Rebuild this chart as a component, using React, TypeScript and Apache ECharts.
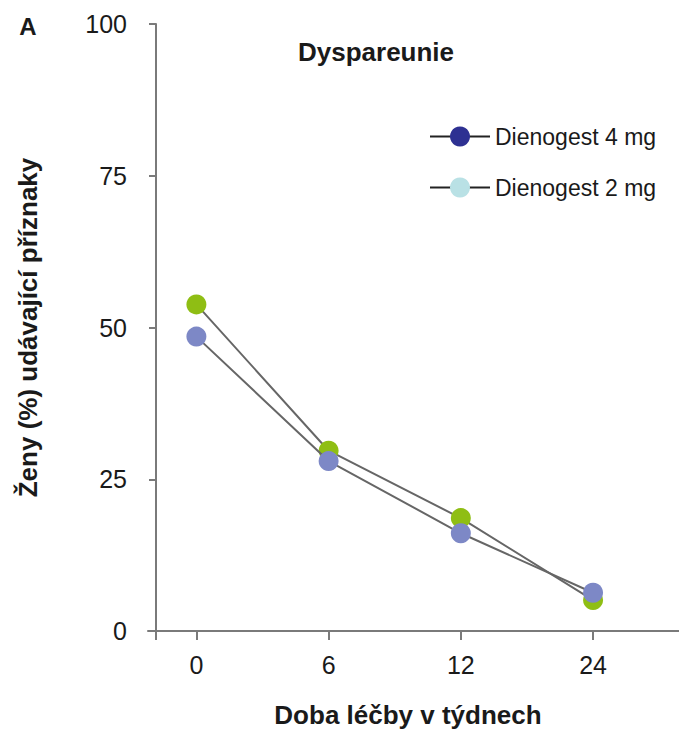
import React, { useEffect, useRef } from "react";
import * as echarts from "echarts";

const weekLabels = ["0", "6", "12", "24"];
const weekIndex = [0, 1, 2, 3];
const dose4mg = [48.5, 28.0, 16.1, 6.3];
const dose2mg = [53.8, 29.7, 18.6, 5.1];
const yTicks = [0, 25, 50, 75, 100];

const FONT = "'Liberation Sans', Arial, sans-serif";

export default function App() {
  const ref = useRef<HTMLDivElement>(null);
  useEffect(() => {
    if (!ref.current) return;
    const chart = echarts.init(ref.current, undefined, { renderer: "svg" });
    const pairs = (vals: number[]) => weekIndex.map((x, i) => [x, vals[i]]);
    chart.setOption({
      animation: false,
      textStyle: { fontFamily: FONT },
      grid: { left: 148, right: 0, top: 24, bottom: 99, containLabel: false },
      xAxis: {
        type: "value",
        min: -0.366,
        max: 3.65,
        axisLine: { show: true, onZero: false, lineStyle: { color: "#7a7a7a", width: 2 } },
        axisTick: { show: true, customValues: weekIndex, length: 9, lineStyle: { color: "#7a7a7a", width: 2 } },
        axisLabel: {
          customValues: weekIndex,
          formatter: (v: number) => weekLabels[Math.round(v)] ?? "",
          fontSize: 25,
          color: "#1a1a1a",
          margin: 21,
          fontFamily: FONT,
        },
        splitLine: { show: false },
      },
      yAxis: {
        type: "value",
        min: 0,
        max: 100,
        interval: 25,
        offset: -8,
        name: "Ženy (%) udávající příznaky",
        nameLocation: "middle",
        nameRotate: 90,
        nameGap: 115,
        nameTextStyle: { fontSize: 26, fontWeight: "bold", color: "#1a1a1a", fontFamily: FONT },
        axisLine: { show: true, onZero: false, lineStyle: { color: "#7a7a7a", width: 2 } },
        axisTick: { show: true, length: 7, lineStyle: { color: "#7a7a7a", width: 2 } },
        axisLabel: {
          fontSize: 25,
          color: "#1a1a1a",
          margin: 29,
          fontFamily: FONT,
          formatter: (v: number) => (yTicks.includes(v) ? String(v) : ""),
        },
        splitLine: { show: false },
      },
      legend: {
        orient: "vertical",
        left: 424,
        top: 120,
        itemWidth: 60,
        itemHeight: 25,
        itemGap: 28,
        textStyle: { fontSize: 23, color: "#1a1a1a", fontFamily: FONT },
        data: [
          {
            name: "Dienogest 4 mg",
            itemStyle: { color: "#2e3192" },
            lineStyle: { color: "#222222", width: 2 },
          },
          {
            name: "Dienogest 2 mg",
            itemStyle: { color: "#b9e1e5" },
            lineStyle: { color: "#222222", width: 2 },
          },
        ],
      },
      graphic: [
        {
          type: "line",
          shape: { x1: 156, y1: 631, x2: 156, y2: 640 },
          style: { stroke: "#7a7a7a", lineWidth: 2 },
        },
        {
          type: "text",
          x: 28,
          y: 26,
          style: { text: "A", font: `bold 24px ${FONT}`, fill: "#1a1a1a", textAlign: "center", textVerticalAlign: "middle" },
        },
        {
          type: "text",
          x: 376,
          y: 52,
          style: { text: "Dyspareunie", font: `bold 26px ${FONT}`, fill: "#1a1a1a", textAlign: "center", textVerticalAlign: "middle" },
        },
        {
          type: "text",
          x: 408,
          y: 715,
          style: { text: "Doba léčby v týdnech", font: `bold 26px ${FONT}`, fill: "#1a1a1a", textAlign: "center", textVerticalAlign: "middle" },
        },
      ],
      series: [
        {
          name: "Dienogest 2 mg",
          type: "line",
          data: pairs(dose2mg),
          symbol: "circle",
          symbolSize: 20,
          itemStyle: { color: "#8fbe14" },
          lineStyle: { color: "#666666", width: 2 },
          z: 2,
        },
        {
          name: "Dienogest 4 mg",
          type: "line",
          data: pairs(dose4mg),
          symbol: "circle",
          symbolSize: 20,
          itemStyle: { color: "#7d88c6" },
          lineStyle: { color: "#666666", width: 2 },
          z: 3,
        },
      ],
    });
    return () => chart.dispose();
  }, []);
  return (
    <div
      ref={ref}
      style={{ position: "fixed", left: 0, top: 0, width: 679, height: 730, background: "#fff" }}
    />
  );
}
